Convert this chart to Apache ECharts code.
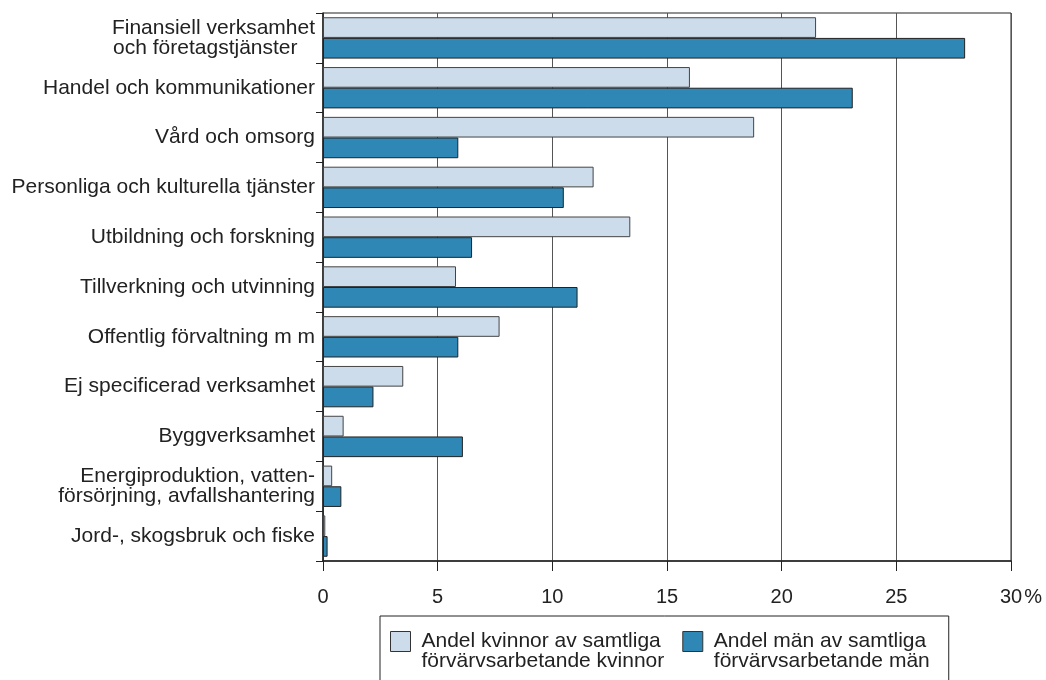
<!DOCTYPE html>
<html>
<head>
<meta charset="utf-8">
<script src="https://cdn.jsdelivr.net/npm/echarts@6/dist/echarts.min.js"></script>
<style>html,body{margin:0;padding:0;background:#fff}#c{width:1046px;height:680px}</style>
</head>
<body>
<div id="c"></div>
<script>
const categories = [
  "Finansiell verksamhet\noch företagstjänster\u00a0\u00a0\u00a0",
  "Handel och kommunikationer",
  "Vård och omsorg",
  "Personliga och kulturella tjänster",
  "Utbildning och forskning",
  "Tillverkning och utvinning",
  "Offentlig förvaltning m m",
  "Ej specificerad verksamhet",
  "Byggverksamhet",
  "Energiproduktion, vatten-\nförsörjning, avfallshantering",
  "Jord-, skogsbruk och fiske"
];
const women = [21.5, 16.0, 18.8, 11.8, 13.4, 5.8, 7.7, 3.5, 0.9, 0.4, 0.1];
const men   = [28.0, 23.1, 5.9, 10.5, 6.5, 11.1, 5.9, 2.2, 6.1, 0.8, 0.2];
const womenName = "Andel kvinnor av samtliga\nförvärvsarbetande kvinnor";
const menName = "Andel män av samtliga\nförvärvsarbetande män";
const xTicks = [0, 5, 10, 15, 20, 25, 30];

const font = "'Liberation Sans', Arial, sans-serif";
const legendIcon = 'path://M0,0L20,0L20,20L0,20Z M0,40';
const chart = echarts.init(document.getElementById('c'), null, {renderer: 'canvas'});
chart.setOption({
  animation: false,
  backgroundColor: '#fff',
  textStyle: {fontFamily: font},
  grid: {left: 323, right: 35, top: 13, bottom: 119, show: true, borderColor: '#222', borderWidth: 1, containLabel: false},
  legend: {
    left: 380, top: 616,
    orient: 'horizontal',
    itemWidth: 20, itemHeight: 40, itemGap: 18,
    padding: [15, 19, 40, 10],
    borderColor: '#222', borderWidth: 1,
    textStyle: {fontSize: 21, lineHeight: 20, color: '#222', fontFamily: font, padding: [0, 0, 0, 6]},
    data: [
      {name: womenName, icon: legendIcon, itemStyle: {color: '#cddcea', borderColor: '#333', borderWidth: 1}},
      {name: menName, icon: legendIcon, itemStyle: {color: '#2e87b5', borderColor: '#333', borderWidth: 1}}
    ]
  },
  xAxis: {
    type: 'value', min: 0, max: 30, interval: 5,
    axisLine: {show: true, lineStyle: {color: '#222', width: 1.5}},
    axisTick: {show: true, length: 10, lineStyle: {color: '#222', width: 1}},
    splitLine: {show: true, lineStyle: {color: '#555', width: 1}},
    axisLabel: {
      fontSize: 20, color: '#222', margin: 26, fontFamily: font,
      formatter: function (v) {
        if (xTicks.indexOf(v) < 0) return '';
        return v === 30 ? '{h|}30{p|%}' : String(v);
      },
      rich: {
        h: {width: 20, fontSize: 20},
        p: {fontSize: 20, color: '#222', padding: [0, 0, 0, 2], fontFamily: font}
      }
    }
  },
  yAxis: {
    type: 'category', inverse: true, data: categories,
    axisLine: {show: true, lineStyle: {color: '#222', width: 1.5}},
    axisTick: {show: true, length: 7, lineStyle: {color: '#222'}},
    axisLabel: {fontSize: 21, lineHeight: 20, color: '#222', margin: 8, fontFamily: font}
  },
  series: [
    {name: womenName, type: 'bar', data: women, barGap: '0%', barCategoryGap: '17%',
     itemStyle: {color: '#cddcea', borderColor: '#444', borderWidth: 1}},
    {name: menName, type: 'bar', data: men, barGap: '0%', barCategoryGap: '17%',
     itemStyle: {color: '#2e87b5', borderColor: '#222', borderWidth: 1}}
  ]
});
</script>
</body>
</html>
